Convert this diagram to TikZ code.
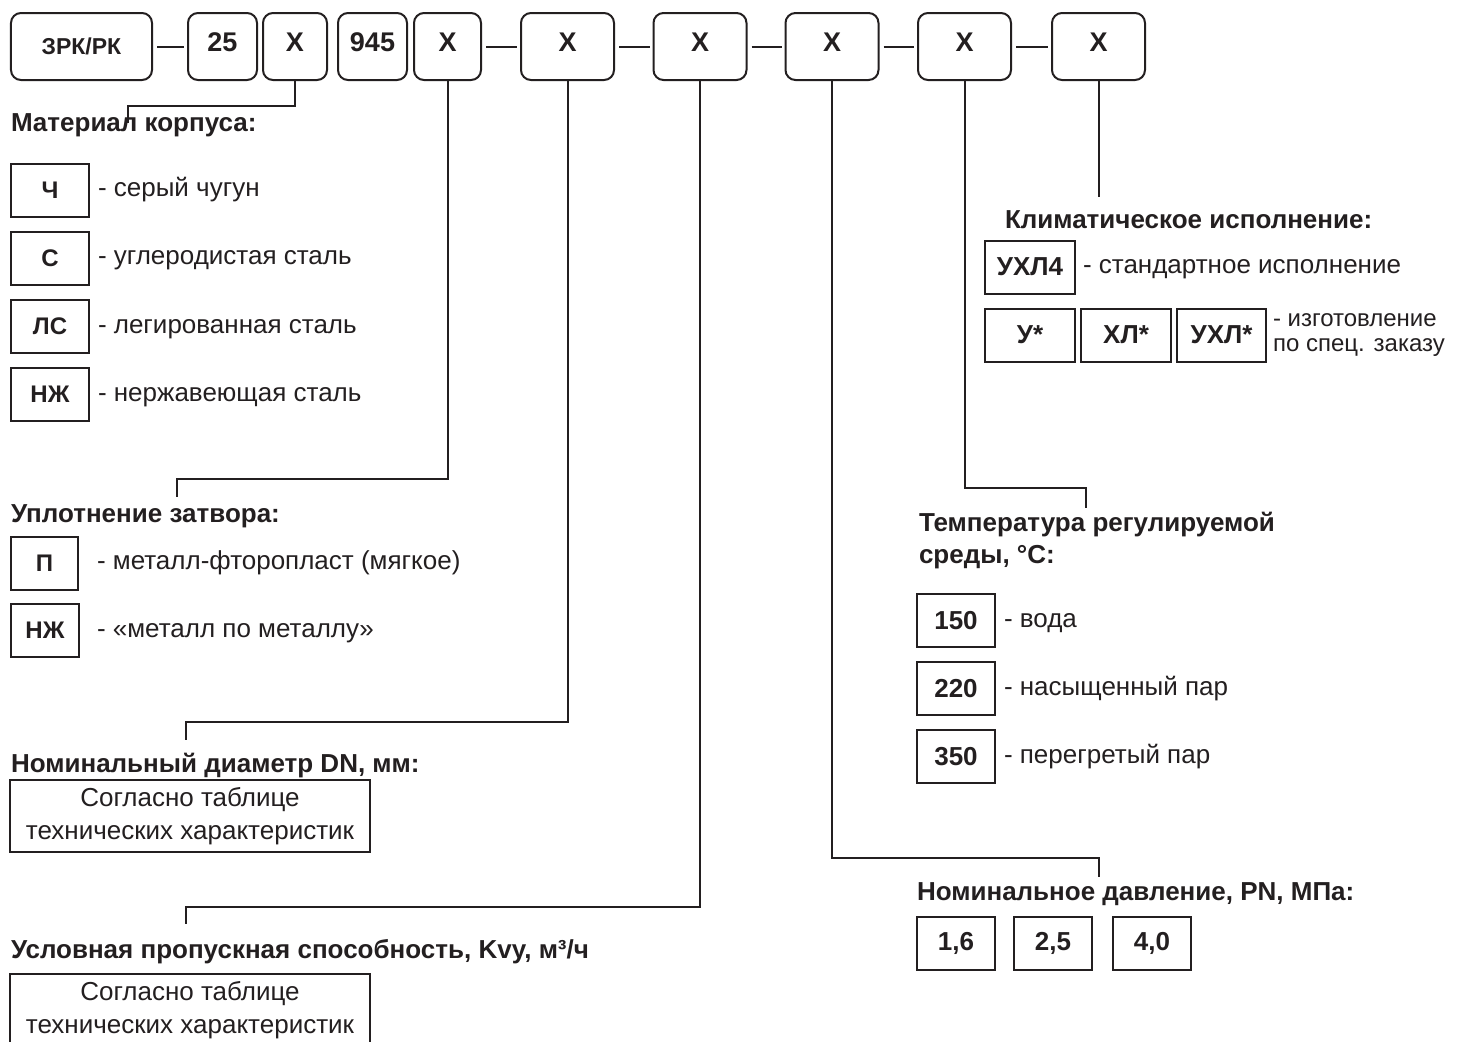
\documentclass[tikz,border=0pt]{standalone}
\usepackage{fontspec}
\setmainfont{Liberation Sans}
\usetikzlibrary{positioning}
\definecolor{ink}{RGB}{35,31,32}
\tikzset{
  every picture/.style={ink, line width=2bp},
  every node/.style={inner sep=0pt, font=\fontsize{26bp}{33bp}\selectfont},
  % Kopfzeile
  code/.style={draw, rounded corners=10bp, minimum height=67bp, text depth=8bp,
    font=\bfseries\fontsize{27bp}{30bp}\selectfont},
  % Auswahlfelder
  opt/.style={draw, minimum width=78bp, minimum height=53bp,
    font=\bfseries\fontsize{26bp}{30bp}\selectfont},
  small/.style={font=\bfseries\fontsize{24bp}{28bp}\selectfont},
  % Texte
  hdr/.style={anchor=base west, font=\bfseries\fontsize{26bp}{32bp}\selectfont},
  lbl/.style={anchor=west, text height=13.5bp, text depth=0bp},
  tab/.style={draw, minimum width=360bp, minimum height=72bp, align=center},
  lead/.style={line width=2bp},
}

\begin{document}
\begin{tikzpicture}[x=1bp, y=-1bp]
  \useasboundingbox (0,0) rectangle (1458,1041);
  % Kopfzeile: Typenschluessel
  \node[code, minimum width=141bp, text depth=0bp, font=\bfseries\fontsize{23bp}{26bp}\selectfont] (zrk) at (81.5,46.5) {ЗРК/РК};
  \node[code, minimum width=69bp] (n25) at (222.5,46.5) {25};
  \node[code, minimum width=64bp] (xmat) at (295,46.5) {X};
  \node[code, minimum width=69bp] (n945) at (372.5,46.5) {945};
  \node[code, minimum width=67bp] (xseal) at (447.5,46.5) {X};
  \node[code, minimum width=93bp] (xdn) at (567.5,46.5) {X};
  \node[code, minimum width=93bp] (xkvy) at (700,46.5) {X};
  \node[code, minimum width=93bp] (xpn) at (832,46.5) {X};
  \node[code, minimum width=93bp] (xtemp) at (964.5,46.5) {X};
  \node[code, minimum width=93bp] (xclim) at (1098.5,46.5) {X};
  \foreach \a/\b in {zrk/n25, xseal/xdn, xdn/xkvy, xkvy/xpn, xpn/xtemp, xtemp/xclim}
    \draw[lead, shorten <=4bp, shorten >=3bp] (\a) -- (\b);

  % Material
  \coordinate (matk) at (128,106); \coordinate (mate) at (128,123);
  \draw[lead] (xmat.south) |- (matk) -- (mate);
  \node[hdr] (math) at (10,131) {Материал корпуса:};
  \foreach \t/\d [count=\i] in {Ч/серый чугун, С/углеродистая сталь,
      ЛС/легированная сталь, НЖ/нержавеющая сталь} {
    \node[opt, small] (mat\i) at (50,{190+68.2*(\i-1)}) {\t};
    \node[lbl, right=7bp of mat\i] (matl\i) {- \d};
  }

  % Dichtung
  \coordinate (sealk) at (177,479); \coordinate (seale) at (177,497);
  \draw[lead] (xseal.south) |- (sealk) -- (seale);
  \node[hdr] (sealh) at (10,522) {Уплотнение затвора:};
  \node[opt, small, minimum width=67bp] (seal1) at (44.5,563) {П};
  \node[opt, small, minimum width=68bp] (seal2) at (45,630.5) {НЖ};
  \node[lbl, right=17bp of seal1] (seall1) {- металл-фторопласт (мягкое)};
  \node[lbl, right=16bp of seal2] (seall2) {- «металл по металлу»};

  % Nennweite
  \coordinate (dnk) at (186,722); \coordinate (dne) at (186,740);
  \draw[lead] (xdn.south) |- (dnk) -- (dne);
  \node[hdr] (dnh) at (10,772) {Номинальный диаметр DN, мм:};
  \node[tab] (dnbox) at (190,816) {Согласно таблице\\технических характеристик};

  % Kvy
  \coordinate (kvyk) at (186,907); \coordinate (kvye) at (186,924);
  \draw[lead] (xkvy.south) |- (kvyk) -- (kvye);
  \node[hdr] (kvyh) at (10,958) {Условная пропускная способность, Kvy, м³/ч};
  \node[tab] (kvybox) at (190,1010) {Согласно таблице\\технических характеристик};

  % Nenndruck
  \coordinate (pnk) at (1099,858); \coordinate (pne) at (1099,877);
  \draw[lead] (xpn.south) |- (pnk) -- (pne);
  \node[hdr] (pnh) at (916,900) {Номинальное давление, PN, МПа:};
  \node[opt] (pn1) at (956,943.5) {1,6};
  \node[opt, right=17bp of pn1] (pn2) {2,5};
  \node[opt, right=19bp of pn2] (pn3) {4,0};

  % Temperatur
  \coordinate (tempk) at (1086,488); \coordinate (tempe) at (1086,508);
  \draw[lead] (xtemp.south) |- (tempk) -- (tempe);
  \node[hdr, anchor=north west, align=left] (temph) at (918,511) {Температура регулируемой\\среды, °С:};
  \foreach \t/\d [count=\i] in {150/вода, 220/насыщенный пар, 350/перегретый пар} {
    \node[opt] (temp\i) at (956,{620.5+68.2*(\i-1)}) {\t};
    \node[lbl, right=7bp of temp\i] (templ\i) {- \d};
  }

  % Klima
  \coordinate (clime) at (1098.5,197);
  \draw[lead] (xclim.south) -- (clime);
  \node[hdr] (climh) at (1004,228) {Климатическое исполнение:};
  \node[opt, minimum width=90bp] (clim0) at (1030,267) {УХЛ4};
  \node[lbl, right=6bp of clim0] (climl0) {- стандартное исполнение};
  \node[opt, minimum width=90bp] (clim1) at (1030,335) {У*};
  \node[opt, minimum width=90bp, right=4bp of clim1] (clim2) {ХЛ*};
  \node[opt, minimum width=89bp, right=4bp of clim2] (clim3) {УХЛ*};
  \node[align=left, font=\fontsize{24bp}{25bp}\selectfont, right=5bp of clim3]
    (climl1) {- изготовление\\по спец. заказу};
\end{tikzpicture}
\end{document}
